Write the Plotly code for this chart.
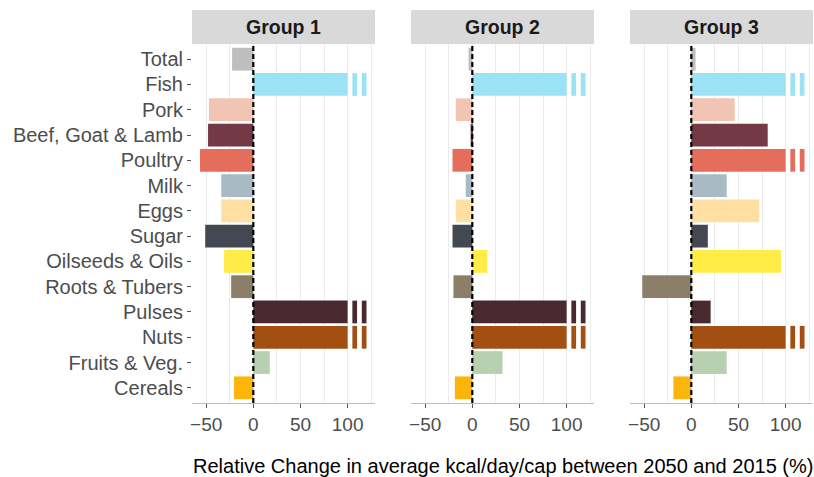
import plotly.graph_objects as go

categories = ["Total", "Fish", "Pork", "Beef, Goat & Lamb", "Poultry", "Milk", "Eggs",
              "Sugar", "Oilseeds & Oils", "Roots & Tubers", "Pulses", "Nuts",
              "Fruits & Veg.", "Cereals"]
colors = ["#bebebe", "#9be3f4", "#f2c4b4", "#733a45", "#e46d5c", "#a8bac4", "#ffdfa4",
          "#434852", "#ffec47", "#8b7f6a", "#4a2a30", "#a34f12", "#b7d1b0", "#fbb50b"]
groups = ["Group 1", "Group 2", "Group 3"]
# values above 100 are off-scale (shown with an axis break)
group1 = [-22.5, 150, -47, -48, -56.5, -34, -34, -51, -31, -23.5, 150, 150, 17.5, -20.5]
group2 = [-4, 150, -17.5, -1.8, -21, -7, -17.5, -21, 16, -20, 150, 150, 32, -18.5]
group3 = [4.5, 150, 46, 81, 150, 37.5, 72, 17.5, 95, -52, 20.5, 150, 37.5, -19]
series = [group1, group2, group3]

tick_vals = [-50, 0, 50, 100]
minor_vals = [-25, 25, 75, 125]
x_range = [-65, 129]
break_at = 100
break_segments = [(105, 110), (115, 120)]

FONT = "Liberation Sans, Arial, Helvetica, sans-serif"
W, H = 814, 477
L, R, T, B = 192, 1, 44, 74
plot_w = W - L - R
plot_h = H - T - B
panel_w = 183
gap = 36
domains = []
for i in range(3):
    x0 = i * (panel_w + gap) / plot_w
    x1 = (i * (panel_w + gap) + panel_w) / plot_w
    domains.append([x0, min(x1, 1.0)])

fig = go.Figure()
for i, vals in enumerate(series):
    xa = "x" if i == 0 else f"x{i+1}"
    ya = "y" if i == 0 else f"y{i+1}"
    fig.add_trace(go.Bar(
        x=[min(v, break_at) for v in vals], y=categories, orientation="h",
        marker=dict(color=colors, line=dict(width=0)), width=0.9,
        xaxis=xa, yaxis=ya, showlegend=False))
    big = [j for j, v in enumerate(vals) if v > break_at]
    for s0, s1 in break_segments:
        fig.add_trace(go.Bar(
            x=[s1 - s0] * len(big), base=[s0] * len(big),
            y=[categories[j] for j in big], orientation="h",
            marker=dict(color=[colors[j] for j in big], line=dict(width=0)), width=0.9,
            xaxis=xa, yaxis=ya, showlegend=False))

layout = dict(
    width=W, height=H, margin=dict(l=L, r=R, t=T, b=B, autoexpand=False),
    paper_bgcolor="white", plot_bgcolor="white", barmode="overlay",
    font=dict(family=FONT, color="#4d4d4d"),
)
for i in range(3):
    sfx = "" if i == 0 else str(i + 1)
    layout["xaxis" + sfx] = dict(
        domain=domains[i], range=x_range, tickvals=tick_vals, automargin=False,
        showgrid=True, gridcolor="#ebebeb", gridwidth=1.1, zeroline=False,
        minor=dict(tickvals=minor_vals, showgrid=True, gridcolor="#ebebeb", gridwidth=1.1, ticks=""),
        showline=True, linecolor="#bdbdbd", linewidth=1.3,
        ticks="outside", ticklen=4, tickcolor="#555555", tickwidth=1.1,
        tickfont=dict(size=19, color="#4d4d4d", family=FONT),
        anchor="y" + sfx, fixedrange=True)
    layout["yaxis" + sfx] = dict(
        domain=[0, 1], type="category", categoryorder="array", categoryarray=categories,
        range=[len(categories) - 0.4, -0.6], autorange=False, automargin=False,
        showgrid=False, zeroline=False, showline=False,
        showticklabels=(i == 0), ticks="outside" if i == 0 else "",
        ticklen=4, tickcolor="#555555", tickwidth=1.1,
        tickfont=dict(size=20, color="#4d4d4d", family=FONT),
        anchor="x" + sfx, fixedrange=True)
    if i > 0:
        layout["yaxis" + sfx]["matches"] = "y"

shapes = []
annotations = []
strip_h = 34 / plot_h
for i in range(3):
    sfx = "" if i == 0 else str(i + 1)
    shapes.append(dict(type="rect", xref="paper", yref="paper",
                       x0=domains[i][0], x1=domains[i][1], y0=1, y1=1 + strip_h,
                       fillcolor="#d9d9d9", line=dict(width=0), layer="below"))
    shapes.append(dict(type="line", xref="x" + sfx, yref="y" + sfx + " domain",
                       x0=0, x1=0, y0=0, y1=1,
                       line=dict(color="black", width=2.2, dash="5px,3px"), layer="above"))
    annotations.append(dict(text="<b>" + groups[i] + "</b>", xref="paper", yref="paper",
                            x=(domains[i][0] + domains[i][1]) / 2, y=1 + strip_h / 2,
                            xanchor="center", yanchor="middle", showarrow=False,
                            font=dict(size=19.5, color="#1a1a1a", family=FONT)))
annotations.append(dict(text="Relative Change in average kcal/day/cap between 2050 and 2015 (%)",
                        xref="paper", yref="paper", x=0.5, y=-(466 - (H - B)) / plot_h,
                        xanchor="center", yanchor="middle", showarrow=False,
                        font=dict(size=20, color="black", family=FONT)))
layout["shapes"] = shapes
layout["annotations"] = annotations
fig.update_layout(**layout)
fig.write_html("out.html", config={"displayModeBar": False},
               post_script="document.body.style.margin='0';document.body.style.overflow='hidden';")
